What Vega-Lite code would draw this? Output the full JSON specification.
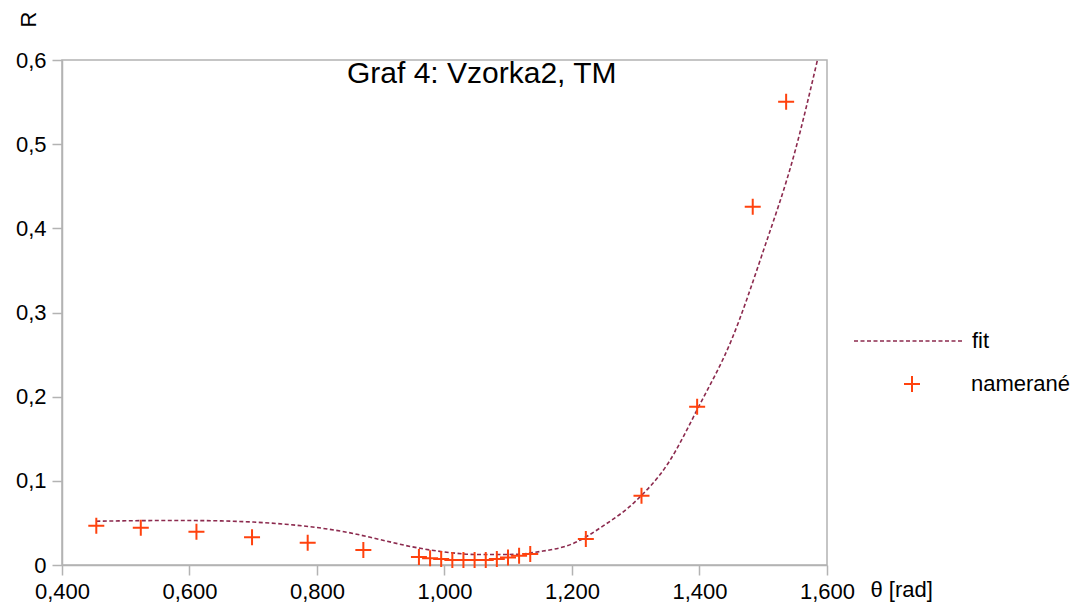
{
  "$schema": "https://vega.github.io/schema/vega-lite/v6.json",
  "autosize": "none",
  "width": 765,
  "height": 505,
  "padding": {"left": 62, "top": 60, "right": 263, "bottom": 45},
  "background": "white",
  "config": {
    "font": "Liberation Sans",
    "view": {"stroke": "#b3b3b3", "strokeWidth": 1.5},
    "axis": {"grid": false, "domainColor": "#b3b3b3", "domainWidth": 1.5, "tickColor": "#b3b3b3", "tickWidth": 1.5, "tickSize": 10, "labelFont": "Liberation Sans", "labelFontSize": 22, "labelColor": "#000000", "titleFont": "Liberation Sans", "titleFontSize": 22, "titleFontWeight": "normal", "titleColor": "#000000"}
  },
  "title": {"text": "Graf 4: Vzorka2, TM", "font": "Liberation Sans", "fontSize": 30, "fontWeight": "normal", "color": "#000000", "anchor": "start", "frame": "group", "dx": 285, "dy": 75, "baseline": "top", "offset": -3},
  "datasets": {
    "fit": [
      {"theta": 0.4538, "R": 0.052, "series": "fit"},
      {"theta": 0.50, "R": 0.0525, "series": "fit"},
      {"theta": 0.55, "R": 0.0528, "series": "fit"},
      {"theta": 0.60, "R": 0.0528, "series": "fit"},
      {"theta": 0.65, "R": 0.0524, "series": "fit"},
      {"theta": 0.70, "R": 0.051, "series": "fit"},
      {"theta": 0.75, "R": 0.0485, "series": "fit"},
      {"theta": 0.80, "R": 0.0445, "series": "fit"},
      {"theta": 0.85, "R": 0.0385, "series": "fit"},
      {"theta": 0.90, "R": 0.030, "series": "fit"},
      {"theta": 0.95, "R": 0.0215, "series": "fit"},
      {"theta": 1.00, "R": 0.0155, "series": "fit"},
      {"theta": 1.05, "R": 0.0125, "series": "fit"},
      {"theta": 1.10, "R": 0.0125, "series": "fit"},
      {"theta": 1.15, "R": 0.016, "series": "fit"},
      {"theta": 1.20, "R": 0.025, "series": "fit"},
      {"theta": 1.25, "R": 0.047, "series": "fit"},
      {"theta": 1.30, "R": 0.076, "series": "fit"},
      {"theta": 1.35, "R": 0.120, "series": "fit"},
      {"theta": 1.40, "R": 0.190, "series": "fit"},
      {"theta": 1.45, "R": 0.267, "series": "fit"},
      {"theta": 1.50, "R": 0.373, "series": "fit"},
      {"theta": 1.55, "R": 0.492, "series": "fit"},
      {"theta": 1.585, "R": 0.600, "series": "fit"}
    ],
    "meas": [
      {"theta": 0.4538, "R": 0.0467, "series": "namerané"},
      {"theta": 0.5236, "R": 0.0443, "series": "namerané"},
      {"theta": 0.6109, "R": 0.0396, "series": "namerané"},
      {"theta": 0.6981, "R": 0.033, "series": "namerané"},
      {"theta": 0.7854, "R": 0.0265, "series": "namerané"},
      {"theta": 0.8727, "R": 0.0178, "series": "namerané"},
      {"theta": 0.9599, "R": 0.0095, "series": "namerané"},
      {"theta": 0.9774, "R": 0.008, "series": "namerané"},
      {"theta": 0.9948, "R": 0.007, "series": "namerané"},
      {"theta": 1.0123, "R": 0.006, "series": "namerané"},
      {"theta": 1.0297, "R": 0.006, "series": "namerané"},
      {"theta": 1.0472, "R": 0.006, "series": "namerané"},
      {"theta": 1.0647, "R": 0.006, "series": "namerané"},
      {"theta": 1.0821, "R": 0.007, "series": "namerané"},
      {"theta": 1.0996, "R": 0.009, "series": "namerané"},
      {"theta": 1.1170, "R": 0.011, "series": "namerané"},
      {"theta": 1.1345, "R": 0.013, "series": "namerané"},
      {"theta": 1.2217, "R": 0.031, "series": "namerané"},
      {"theta": 1.3090, "R": 0.0823, "series": "namerané"},
      {"theta": 1.3963, "R": 0.188, "series": "namerané"},
      {"theta": 1.4835, "R": 0.4257, "series": "namerané"},
      {"theta": 1.5359, "R": 0.5505, "series": "namerané"}
    ]
  },
  "encoding": {
    "x": {"field": "theta", "type": "quantitative", "scale": {"domain": [0.4, 1.6], "nice": false, "zero": false},
      "axis": {"title": "θ [rad]", "values": [0.4, 0.6, 0.8, 1.0, 1.2, 1.4, 1.6], "labelExpr": "replace(format(datum.value, '.3f'), '.', ',')", "labelPadding": 6, "labelFlush": false, "labelOverlap": false, "titleX": 808, "titleY": 24, "titleAlign": "left", "titleBaseline": "middle", "titleAngle": 0}},
    "y": {"field": "R", "type": "quantitative", "scale": {"domain": [0, 0.6], "nice": false},
      "axis": {"title": "R", "values": [0, 0.1, 0.2, 0.3, 0.4, 0.5, 0.6], "labelExpr": "datum.value == 0 ? '0' : replace(format(datum.value, '.1f'), '.', ',')", "labelPadding": 6, "labelFlush": false, "labelOverlap": false, "titleX": -34, "titleY": -41, "titleAngle": -90, "titleAlign": "center", "titleBaseline": "middle"}}
  },
  "layer": [
    {
      "data": {"name": "fit"},
      "mark": {"type": "line", "interpolate": "monotone", "strokeWidth": 1.6, "strokeDash": [4, 2.5]},
      "encoding": {
        "stroke": {"field": "series", "type": "nominal", "scale": {"domain": ["fit"], "range": ["#8c2a4e"]},
          "legend": {"title": null, "orient": "none", "legendX": 791, "legendY": 225, "symbolType": "stroke", "symbolSize": 12100, "symbolStrokeWidth": 1.6, "symbolDash": [4, 2.5], "symbolStrokeColor": "#8c2a4e", "labelFont": "Liberation Sans", "labelFontSize": 22, "labelColor": "#000000", "labelOffset": 7}}
      }
    },
    {
      "data": {"name": "meas"},
      "mark": {"type": "point", "filled": false, "stroke": "#ff420e", "strokeWidth": 2, "size": 256, "opacity": 1},
      "encoding": {
        "shape": {"field": "series", "type": "nominal", "scale": {"domain": ["namerané"], "range": ["M-1,0L1,0M0,-1L0,1"]},
          "legend": {"title": null, "orient": "none", "legendX": 839, "legendY": 313, "symbolSize": 256, "symbolStrokeWidth": 2, "symbolStrokeColor": "#ff420e", "symbolFillColor": "transparent", "labelFont": "Liberation Sans", "labelFontSize": 22, "labelColor": "#000000", "labelOffset": 48}}
      }
    }
  ]
}
